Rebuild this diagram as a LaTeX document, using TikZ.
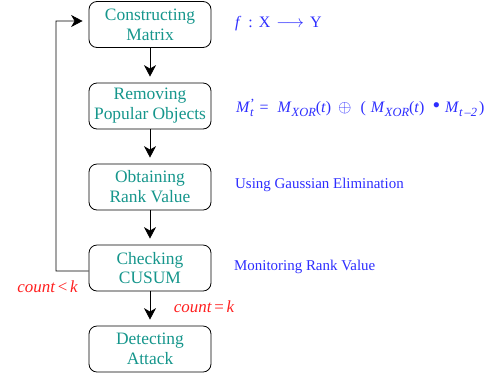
\documentclass[tikz,border=0pt]{standalone}
\usepackage{fontspec}
\setmainfont{Liberation Serif}
\usetikzlibrary{arrows.meta}
\definecolor{boxtext}{RGB}{22,150,140}
\definecolor{noteblue}{RGB}{45,45,255}
\definecolor{condred}{RGB}{255,30,30}
% lowered subscript and raised prime for the formula
\newcommand\lowsub[1]{\raisebox{-0.6ex}{\fontsize{12.5}{12.5}\selectfont\itshape #1}}
\newcommand\primemark{\raisebox{0.6ex}{\fontsize{14}{14}\selectfont\textquoteright}}
\begin{document}
\begin{tikzpicture}[x=1bp,y=-1bp,
  stepbox/.style={draw, line width=0.8bp, rounded corners=8bp, minimum width=122bp,
    minimum height=46bp, align=center, text=boxtext, inner sep=0pt,
    font=\fontsize{17.5}{20}\selectfont},
  flow/.style={-{Stealth[length=11.5bp,width=12bp,inset=3.5bp]}, line width=0.8bp, shorten >=6bp},
  note/.style={text=noteblue, font=\fontsize{15}{18}\selectfont, anchor=west, inner sep=0pt},
  cond/.style={text=condred, font=\fontsize{17}{20}\selectfont\itshape, inner sep=0pt}]
\useasboundingbox (0,0) rectangle (498,381);

% process steps
\node[stepbox] (cm) at (150,24.5) {Constructing\\Matrix};
\node[stepbox] (rp) at (150,106) {Removing\\Popular Objects};
\node[stepbox] (rv) at (150,187) {Obtaining\\Rank Value};
\node[stepbox] (cc) at (150,268) {Checking\\CUSUM};
\node[stepbox] (da) at (150,349) {Detecting\\Attack};

% main flow
\draw[flow] (cm) -- (rp);
\draw[flow] (rp) -- (rv);
\draw[flow] (rv) -- (cc);
\draw[flow] (cc) -- (da);

% feedback loop
\coordinate (back) at (56,271);
\draw[flow] ([yshift=-3bp]cc.west) -- (back) |- ([yshift=3.5bp]cm.west);

% conditions
\node[cond] (lt) at (47.5,287) {count\,{\upshape<}\,k};
\node[cond] (eq) at (204,307) {count\,{\upshape=}\,k};

% annotations
\node[note, font=\fontsize{16}{18}\selectfont] (fmap) at (235,24)
  {\textit{f}\hspace{7bp}:\hspace{6bp}X\hspace{6bp}$\longrightarrow$\hspace{6bp}Y};
\node[note, font=\fontsize{16}{18}\selectfont] (frm) at (236,108)
  {\textit{M}\rlap{\primemark}\lowsub{t}\hspace{6bp}=\hspace{9bp}\textit{M}\lowsub{XOR}(\textit{t})\hspace{7bp}$\oplus$\hspace{9bp}(\hspace{5bp}\textit{M}\lowsub{XOR}(\textit{t})\hspace{8bp}{\fontsize{22}{22}\selectfont\textbullet}\hspace{5bp}\textit{M}\lowsub{t\,\textendash2}\hspace{2bp})};
\node[note] (gauss) at (235,185) {Using Gaussian Elimination};
\node[note] (mon) at (234,267) {Monitoring Rank Value};
\end{tikzpicture}
\end{document}
